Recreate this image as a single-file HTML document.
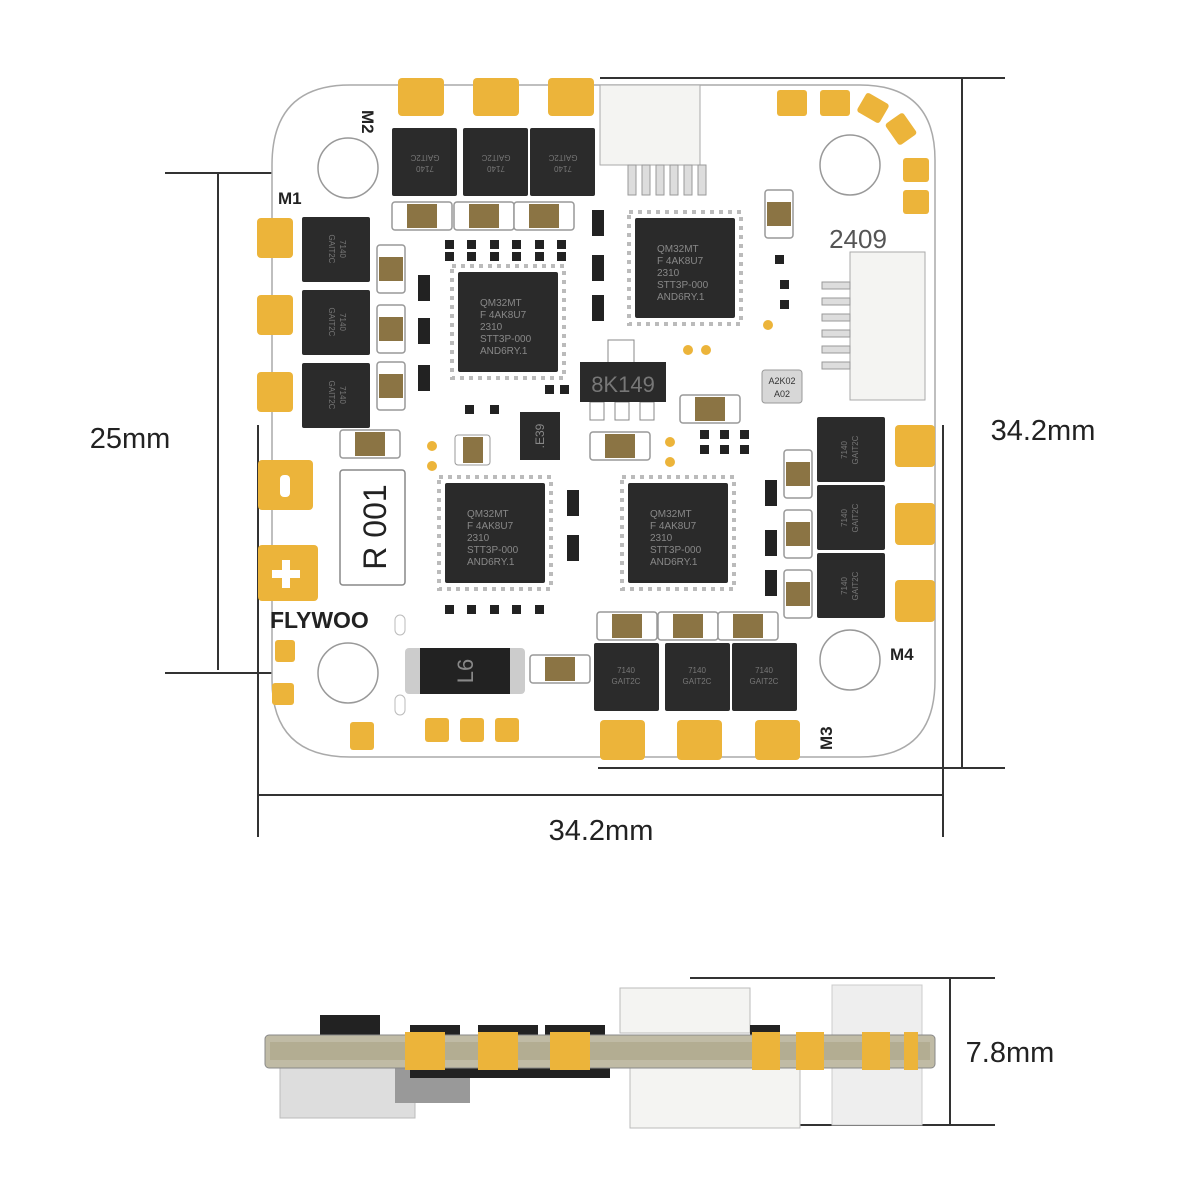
<!DOCTYPE html>
<html><head><meta charset="utf-8"><style>
html,body{margin:0;padding:0;background:#fff}
svg{display:block}
text{font-family:"Liberation Sans",sans-serif}
</style></head><body>
<svg width="1200" height="1200" viewBox="0 0 1200 1200" xmlns="http://www.w3.org/2000/svg">
<defs>
<g id="mos"><rect width="65" height="68" fill="#2b2b2b" rx="2"/><text x="32" y="30" font-size="8" fill="#777" text-anchor="middle">7140</text><text x="32" y="41" font-size="8" fill="#777" text-anchor="middle">GAIT2C</text></g>
<g id="mcu"><rect x="-6" y="-6" width="112" height="112" fill="none" stroke="#bbb" stroke-width="4" stroke-dasharray="4 5"/><rect width="100" height="100" fill="#2a2a2a" rx="2"/>
<g font-size="10" fill="#888"><text x="22" y="34">QM32MT</text><text x="22" y="46">F 4AK8U7</text><text x="22" y="58">2310</text><text x="22" y="70">STT3P-000</text><text x="22" y="82">AND6RY.1</text></g></g>
<g id="capH"><rect width="60" height="28" fill="#fff" stroke="#999" stroke-width="1.5" rx="3"/><rect x="15" y="2" width="30" height="24" fill="#8b7444"/></g>
<g id="capV"><rect width="28" height="48" fill="#fff" stroke="#999" stroke-width="1.5" rx="3"/><rect x="2" y="12" width="24" height="24" fill="#8b7444"/></g>
</defs>

<g stroke="#333" stroke-width="2" fill="none">
<line x1="600" y1="78" x2="1005" y2="78"/>
<line x1="962" y1="78" x2="962" y2="768"/>
<line x1="598" y1="768" x2="1005" y2="768"/>
<line x1="258" y1="425" x2="258" y2="837"/>
<line x1="943" y1="425" x2="943" y2="837"/>
<line x1="258" y1="795" x2="943" y2="795"/>
<line x1="165" y1="173" x2="345" y2="173"/>
<line x1="165" y1="673" x2="345" y2="673"/>
<line x1="218" y1="173" x2="218" y2="670"/>
<line x1="690" y1="978" x2="995" y2="978"/>
<line x1="790" y1="1125" x2="995" y2="1125"/>
<line x1="950" y1="978" x2="950" y2="1125"/>
</g>
<g font-size="29" fill="#222">
<text x="601" y="840" text-anchor="middle">34.2mm</text>
<text x="130" y="448" text-anchor="middle">25mm</text>
<text x="1043" y="440" text-anchor="middle">34.2mm</text>
<text x="1010" y="1062" text-anchor="middle">7.8mm</text>
</g>

<path d="M350 85 H860 Q935 85 935 160 V680 Q935 757 860 757 H350 Q272 757 272 680 V165 Q272 85 350 85 Z" fill="#fff" stroke="#aaa" stroke-width="1.5"/>
<circle cx="348" cy="168" r="30" fill="#fff" stroke="#999" stroke-width="1.5"/>
<circle cx="850" cy="165" r="30" fill="#fff" stroke="#999" stroke-width="1.5"/>
<circle cx="348" cy="673" r="30" fill="#fff" stroke="#999" stroke-width="1.5"/>
<circle cx="850" cy="660" r="30" fill="#fff" stroke="#999" stroke-width="1.5"/>

<g fill="#ecb43a">
<rect x="398" y="78" width="46" height="38" rx="4"/><rect x="473" y="78" width="46" height="38" rx="4"/><rect x="548" y="78" width="46" height="38" rx="4"/>
<rect x="777" y="90" width="30" height="26" rx="3"/><rect x="820" y="90" width="30" height="26" rx="3"/>
<rect x="860" y="97" width="26" height="22" rx="3" transform="rotate(30 873 108)"/>
<rect x="888" y="118" width="26" height="22" rx="3" transform="rotate(55 901 129)"/>
<rect x="903" y="158" width="26" height="24" rx="3"/><rect x="903" y="190" width="26" height="24" rx="3"/>
<rect x="257" y="218" width="36" height="40" rx="4"/><rect x="257" y="295" width="36" height="40" rx="4"/><rect x="257" y="372" width="36" height="40" rx="4"/>
<rect x="895" y="425" width="40" height="42" rx="4"/><rect x="895" y="503" width="40" height="42" rx="4"/><rect x="895" y="580" width="40" height="42" rx="4"/>
<rect x="600" y="720" width="45" height="40" rx="4"/><rect x="677" y="720" width="45" height="40" rx="4"/><rect x="755" y="720" width="45" height="40" rx="4"/>
<rect x="425" y="718" width="24" height="24" rx="3"/><rect x="460" y="718" width="24" height="24" rx="3"/><rect x="495" y="718" width="24" height="24" rx="3"/>
<rect x="350" y="722" width="24" height="28" rx="3"/><rect x="272" y="683" width="22" height="22" rx="3"/><rect x="275" y="640" width="20" height="22" rx="3"/>
<rect x="258" y="460" width="55" height="50" rx="4"/><rect x="258" y="545" width="60" height="56" rx="4"/>
<circle cx="432" cy="446" r="5"/><circle cx="432" cy="466" r="5"/><circle cx="688" cy="350" r="5"/><circle cx="706" cy="350" r="5"/><circle cx="768" cy="325" r="5"/><circle cx="670" cy="442" r="5"/><circle cx="670" cy="462" r="5"/>
</g>
<rect x="280" y="475" width="10" height="22" rx="4" fill="#fff"/>
<path d="M286 560 V588 M272 574 H300" stroke="#fff" stroke-width="8"/>

<use href="#mos" x="393" y="128" transform="rotate(180 425 162)"/>
<use href="#mos" x="464" y="128" transform="rotate(180 496 162)"/>
<use href="#mos" x="531" y="128" transform="rotate(180 563 162)"/>
<use href="#mos" x="303" y="216" transform="rotate(90 336 250)"/>
<use href="#mos" x="303" y="289" transform="rotate(90 336 323)"/>
<use href="#mos" x="303" y="362" transform="rotate(90 336 396)"/>
<use href="#mos" x="818" y="415" transform="rotate(-90 851 449)"/>
<use href="#mos" x="818" y="483" transform="rotate(-90 851 517)"/>
<use href="#mos" x="818" y="551" transform="rotate(-90 851 585)"/>
<use href="#mos" x="594" y="643"/><use href="#mos" x="665" y="643"/><use href="#mos" x="732" y="643"/>

<use href="#capH" x="392" y="202"/><use href="#capH" x="454" y="202"/><use href="#capH" x="514" y="202"/>
<use href="#capH" x="597" y="612"/><use href="#capH" x="658" y="612"/><use href="#capH" x="718" y="612"/>
<use href="#capH" x="340" y="430"/><use href="#capH" x="590" y="432"/><use href="#capH" x="680" y="395"/><use href="#capH" x="530" y="655"/>
<use href="#capV" x="377" y="245"/><use href="#capV" x="377" y="305"/><use href="#capV" x="377" y="362"/>
<use href="#capV" x="784" y="450"/><use href="#capV" x="784" y="510"/><use href="#capV" x="784" y="570"/>
<use href="#capV" x="765" y="190"/>
<rect x="455" y="435" width="35" height="30" fill="#fff" stroke="#999" rx="3"/><rect x="463" y="437" width="20" height="26" fill="#8b7444"/>

<use href="#mcu" x="458" y="272"/><use href="#mcu" x="635" y="218"/><use href="#mcu" x="445" y="483"/><use href="#mcu" x="628" y="483"/>

<g fill="#222">
<rect x="445" y="240" width="9" height="9"/><rect x="467" y="240" width="9" height="9"/><rect x="490" y="240" width="9" height="9"/><rect x="512" y="240" width="9" height="9"/><rect x="535" y="240" width="9" height="9"/><rect x="557" y="240" width="9" height="9"/>
<rect x="445" y="252" width="9" height="9"/><rect x="467" y="252" width="9" height="9"/><rect x="490" y="252" width="9" height="9"/><rect x="512" y="252" width="9" height="9"/><rect x="535" y="252" width="9" height="9"/><rect x="557" y="252" width="9" height="9"/>
<rect x="418" y="275" width="12" height="26"/><rect x="418" y="318" width="12" height="26"/><rect x="418" y="365" width="12" height="26"/>
<rect x="592" y="210" width="12" height="26"/><rect x="592" y="255" width="12" height="26"/><rect x="592" y="295" width="12" height="26"/>
<rect x="567" y="490" width="12" height="26"/><rect x="567" y="535" width="12" height="26"/><rect x="765" y="480" width="12" height="26"/><rect x="765" y="530" width="12" height="26"/><rect x="765" y="570" width="12" height="26"/>
<rect x="445" y="605" width="9" height="9"/><rect x="467" y="605" width="9" height="9"/><rect x="490" y="605" width="9" height="9"/><rect x="512" y="605" width="9" height="9"/><rect x="535" y="605" width="9" height="9"/>
<rect x="700" y="430" width="9" height="9"/><rect x="720" y="430" width="9" height="9"/><rect x="740" y="430" width="9" height="9"/><rect x="700" y="445" width="9" height="9"/><rect x="720" y="445" width="9" height="9"/><rect x="740" y="445" width="9" height="9"/>
<rect x="775" y="255" width="9" height="9"/><rect x="780" y="280" width="9" height="9"/><rect x="780" y="300" width="9" height="9"/><rect x="545" y="385" width="9" height="9"/><rect x="560" y="385" width="9" height="9"/><rect x="465" y="405" width="9" height="9"/><rect x="490" y="405" width="9" height="9"/>
</g>

<rect x="608" y="340" width="26" height="24" fill="#fff" stroke="#888"/>
<rect x="590" y="402" width="14" height="18" fill="#fff" stroke="#888"/><rect x="615" y="402" width="14" height="18" fill="#fff" stroke="#888"/><rect x="640" y="402" width="14" height="18" fill="#fff" stroke="#888"/>
<rect x="580" y="362" width="86" height="40" fill="#2a2a2a"/>
<text x="623" y="392" font-size="22" fill="#777" text-anchor="middle">8K149</text>
<rect x="520" y="412" width="40" height="48" fill="#2a2a2a"/><text x="540" y="440" font-size="12" fill="#888" text-anchor="middle" transform="rotate(-90 540 436)">.E39</text>
<rect x="762" y="370" width="40" height="33" fill="#d7d7d7" stroke="#999" rx="3"/><text x="782" y="384" font-size="9" fill="#333" text-anchor="middle">A2K02</text><text x="782" y="397" font-size="9" fill="#333" text-anchor="middle">A02</text>
<text x="858" y="248" font-size="26" fill="#555" text-anchor="middle" font-family="Liberation Mono">2409</text>

<rect x="600" y="85" width="100" height="80" fill="#f4f4f2" stroke="#aaa"/>
<g fill="#ddd" stroke="#999"><rect x="628" y="165" width="8" height="30"/><rect x="642" y="165" width="8" height="30"/><rect x="656" y="165" width="8" height="30"/><rect x="670" y="165" width="8" height="30"/><rect x="684" y="165" width="8" height="30"/><rect x="698" y="165" width="8" height="30"/></g>
<rect x="850" y="252" width="75" height="148" fill="#f4f4f2" stroke="#aaa"/>
<g fill="#ddd" stroke="#999"><rect x="822" y="282" width="28" height="7"/><rect x="822" y="298" width="28" height="7"/><rect x="822" y="314" width="28" height="7"/><rect x="822" y="330" width="28" height="7"/><rect x="822" y="346" width="28" height="7"/><rect x="822" y="362" width="28" height="7"/></g>

<rect x="340" y="470" width="65" height="115" fill="#fff" stroke="#888" stroke-width="1.5" rx="3"/>
<text x="375" y="527" font-size="32" fill="#222" text-anchor="middle" transform="rotate(-90 375 527)" dy="11">R 001</text>
<text x="270" y="628" font-size="23" font-weight="bold" fill="#222">FLYWOO</text>
<rect x="405" y="648" width="120" height="46" fill="#ccc" rx="4"/><rect x="420" y="648" width="90" height="46" fill="#222"/>
<text x="465" y="671" font-size="22" fill="#888" text-anchor="middle" transform="rotate(-90 465 671)" dy="8">L6</text>
<rect x="395" y="615" width="10" height="20" rx="5" fill="#fff" stroke="#bbb"/><rect x="395" y="695" width="10" height="20" rx="5" fill="#fff" stroke="#bbb"/>

<g font-size="17" font-weight="bold" fill="#222">
<text x="278" y="204">M1</text>
<text x="362" y="110" transform="rotate(90 362 110)">M2</text>
<text x="832" y="750" transform="rotate(-90 832 750)">M3</text>
<text x="890" y="660">M4</text>
</g>

<rect x="280" y="1068" width="135" height="50" fill="#ddd" stroke="#bbb"/>
<rect x="395" y="1068" width="75" height="35" fill="#999"/>
<rect x="620" y="988" width="130" height="45" fill="#f4f4f2" stroke="#bbb"/>
<rect x="630" y="1068" width="170" height="60" fill="#f4f4f2" stroke="#bbb"/>
<rect x="832" y="985" width="90" height="140" fill="#eee" stroke="#ccc"/>
<g fill="#222"><rect x="320" y="1015" width="60" height="22"/><rect x="410" y="1025" width="50" height="12"/><rect x="478" y="1025" width="60" height="12"/><rect x="545" y="1025" width="60" height="12"/><rect x="410" y="1068" width="200" height="10"/><rect x="750" y="1025" width="30" height="12"/></g>
<rect x="265" y="1035" width="670" height="33" rx="4" fill="#c0bba5" stroke="#888"/>
<rect x="270" y="1042" width="660" height="18" fill="#b3ad92"/>
<g fill="#ecb43a"><rect x="405" y="1032" width="40" height="38"/><rect x="478" y="1032" width="40" height="38"/><rect x="550" y="1032" width="40" height="38"/><rect x="752" y="1032" width="28" height="38"/><rect x="796" y="1032" width="28" height="38"/><rect x="862" y="1032" width="28" height="38"/><rect x="904" y="1032" width="14" height="38"/></g>
</svg>
</body></html>
